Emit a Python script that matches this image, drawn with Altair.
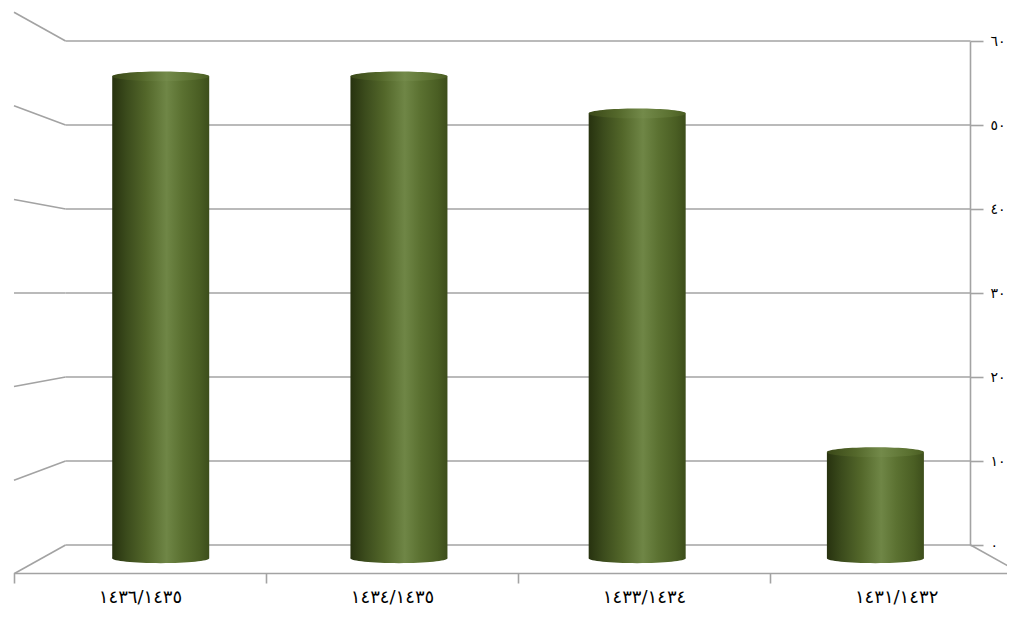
import json
import altair as alt
import pandas as pd

# ---- data ----
categories = ["١٤٣٦/١٤٣٥", "١٤٣٤/١٤٣٥", "١٤٣٣/١٤٣٤", "١٤٣١/١٤٣٢"]
values = [54.5, 54.5, 50.3, 12.0]
tick_values = [0, 10, 20, 30, 40, 50, 60]
tick_labels = ["٠", "١٠", "٢٠", "٣٠", "٤٠", "٥٠", "٦٠"]

# ---- 3D projection constants (depth scale relative to the back wall) ----
S_MID = 1.053     # depth of the cylinders' axis
S_FRONT = 1.114   # front edge of the floor
V_VAN = 30        # vanishing value level
B_VAN = 2         # vanishing category position

GRID = "#a3a3a3"
FONT = "DejaVu Sans"

bars = pd.DataFrame({"category": categories, "value": values,
                     "idx": list(range(len(categories)))})
grid = pd.DataFrame({"v": tick_values})


def u_expr(b, s):
    return f"{B_VAN} + (({b}) - {B_VAN}) * ({s}) / {S_FRONT}"


def y_expr(v, s):
    return f"{V_VAN} + (({v}) - {V_VAN}) * ({s})"


xscale = alt.Scale(domain=[0, 3.94], nice=False, zero=False, padding=0)
yscale = alt.Scale(domain=[0, 60], nice=False, zero=False, padding=0)

x_label_expr = f"{json.dumps(categories, ensure_ascii=False)}[datum.value]"
y_label_expr = (f"{json.dumps(tick_labels, ensure_ascii=False)}"
                f"[indexof({json.dumps(tick_values)}, datum.value)]")

x_axis = alt.Axis(values=[0, 1, 2, 3], labelExpr=x_label_expr, labelOffset=126,
                  offset=28, title=None, grid=False, domainColor=GRID, domainWidth=1.6,
                  tickColor=GRID, tickWidth=1.6, tickSize=10, labelFontSize=18,
                  labelColor="#000000", labelPadding=5, labelFlush=False,
                  labelOverlap=False, labelFont=FONT, labelBound=False)
y_axis = alt.Axis(orient="right", values=tick_values, labelExpr=y_label_expr,
                  offset=-37, title=None, grid=False, domainColor=GRID, domainWidth=1.6,
                  tickColor=GRID, tickWidth=1.6, tickSize=13, labelFontSize=14,
                  labelColor="#000000", labelPadding=7, labelFlush=False,
                  labelOverlap=False, labelFont=FONT, labelBaseline="middle")

grad = alt.Gradient(
    gradient="linear", x1=0, x2=1, y1=0, y2=0,
    stops=[
        alt.GradientStop(color="#27320f", offset=0.0),
        alt.GradientStop(color="#3b4b1c", offset=0.15),
        alt.GradientStop(color="#53672a", offset=0.35),
        alt.GradientStop(color="#6f8646", offset=0.56),
        alt.GradientStop(color="#5b7131", offset=0.72),
        alt.GradientStop(color="#4a5e23", offset=0.9),
        alt.GradientStop(color="#3d4e1b", offset=1.0),
    ],
)
grad_top = alt.Gradient(
    gradient="linear", x1=0, x2=1, y1=0, y2=0,
    stops=[
        alt.GradientStop(color="#3a4818", offset=0.0),
        alt.GradientStop(color="#54682b", offset=0.3),
        alt.GradientStop(color="#738a4a", offset=0.56),
        alt.GradientStop(color="#5a7030", offset=0.85),
        alt.GradientStop(color="#4a5d22", offset=1.0),
    ],
)

ELLIPSE = "M -1 0 A 1 0.1 0 1 1 1 0 A 1 0.1 0 1 1 -1 0 Z"


def X(field):
    return alt.X(field, type="quantitative", scale=xscale, axis=x_axis)


def Y(field):
    return alt.Y(field, type="quantitative", scale=yscale, axis=y_axis)


# back wall gridlines
back = alt.Chart(grid).transform_calculate(
    xl=u_expr(0, 1), xr=u_expr(4, 1)
).mark_rule(color=GRID, strokeWidth=1.6).encode(
    x=X("xl"), x2="xr:Q", y=Y("v"),
)

# left side wall lines
side = alt.Chart(grid).transform_calculate(
    xf=u_expr(0, S_FRONT), xl=u_expr(0, 1), yf=y_expr("datum.v", S_FRONT)
).mark_rule(color=GRID, strokeWidth=1.6).encode(
    x=X("xf"), x2="xl:Q", y=Y("yf"), y2="v:Q",
)

# right edge of the floor
floor_right = alt.Chart(grid).transform_filter("datum.v == 0").transform_calculate(
    xr=u_expr(4, 1), xf=u_expr(4, S_FRONT), yf=y_expr("datum.v", S_FRONT)
).mark_rule(color=GRID, strokeWidth=1.6).encode(
    x=X("xr"), x2="xf:Q", y=Y("v"), y2="yf:Q",
)

bar_base = alt.Chart(bars).transform_calculate(
    bx=u_expr("datum.idx + 0.5", S_MID),
    top=y_expr("datum.value", S_MID),
    base=y_expr(0, S_MID),
)

body = bar_base.mark_bar(size=97, color=grad).encode(
    x=X("bx"), y=Y("top"), y2="base:Q",
)
bottom_cap = bar_base.mark_point(shape=ELLIPSE, size=97 * 97, filled=True,
                                 color=grad, opacity=1).encode(
    x=X("bx"), y=Y("base"),
)
top_cap = bar_base.mark_point(shape=ELLIPSE, size=97 * 97, filled=True,
                              color=grad_top, opacity=1).encode(
    x=X("bx"), y=Y("top"),
)

chart = alt.layer(back, side, floor_right, bottom_cap, body, top_cap).properties(
    width=993, height=504,
    autosize=alt.AutoSizeParams(type="none"),
    padding={"left": 6, "top": 33, "right": 0, "bottom": 64},
    background="#ffffff",
).configure_view(stroke=None)

chart.save("out.html", embed_options={"renderer": "svg", "actions": False})
